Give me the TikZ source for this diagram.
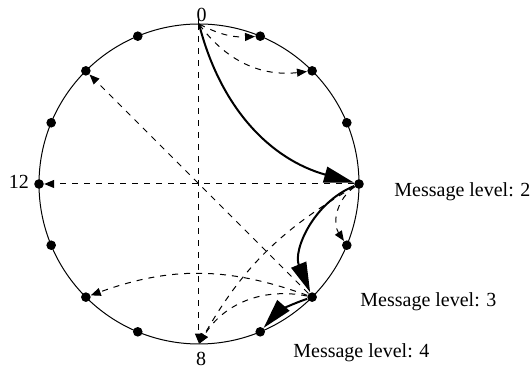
\documentclass[tikz,border=0pt]{standalone}
\usepackage{fontspec}
\setmainfont{Liberation Serif}
\usetikzlibrary{arrows.meta}

\begin{document}
\begin{tikzpicture}[x=0.5pt, y=0.5pt,
        dot/.style={circle, fill=black, inner sep=0pt, minimum size=4.8pt},
        point/.style={inner sep=0pt, minimum size=0pt},
        msg/.style={dashed, line width=0.5pt, -{Triangle[length=5pt, width=4pt]}},
        hop/.style={line width=1pt, -{Triangle[length=15pt, width=8pt]}}]
        \pgfmathsetmacro{\radius}{160}
        \useasboundingbox (-199, -183) rectangle (331, 184);

        \draw[line width=0.5pt] (0, 0) circle (\radius);

        \node[point] (n0) at (90:\radius) {};
        \node[dot] (n1) at (67.5:\radius) {};
        \node[dot] (n2) at (45:\radius) {};
        \node[dot] (n3) at (22.5:\radius) {};
        \node[dot] (n4) at (0:\radius) {};
        \node[dot] (n5) at (-22.5:\radius) {};
        \node[dot] (n6) at (-45:\radius) {};
        \node[dot] (n7) at (-67.5:\radius) {};
        \node[point] (n8) at (-90:\radius) {};
        \node[dot] (n9) at (-112.5:\radius) {};
        \node[dot] (n10) at (-135:\radius) {};
        \node[dot] (n11) at (-157.5:\radius) {};
        \node[dot] (n12) at (180:\radius) {};
        \node[dot] (n13) at (157.5:\radius) {};
        \node[dot] (n14) at (135:\radius) {};
        \node[dot] (n15) at (112.5:\radius) {};

        \draw[line width=0.5pt] ([yshift=-2.5pt]n0.center) -- ([yshift=2.5pt]n0.center);

        \node[inner sep=0pt] (t0) at (2.5, 169) {0};
        \node[inner sep=0pt] (t8) at (2, -175) {8};
        \node[inner sep=0pt] (t12) at (-180, 2) {12};

        \node[inner sep=0pt, anchor=base west] (lvl2) at (195, -13) {Message level: 2};
        \node[inner sep=0pt, anchor=base west] (lvl3) at (161, -123) {Message level: 3};
        \node[inner sep=0pt, anchor=base west] (lvl4) at (94, -174) {Message level: 4};

        \draw[msg] (n0) to[bend right=15] (n1);
        \draw[msg] (n0) to[bend right=30] (n2);
        \draw[msg] (n0) -- (n8);

        \draw[msg] (n4) to[bend right=45] (n5);
        \draw[msg] (n4) -- (n12);
        \draw[msg] (n4) to[bend right=15] (n8);

        \draw[msg] (n6) -- (n14);
        \draw[msg] (n6) to[bend right=20] (n10);
        \draw[msg] (n6) to[bend right=35] (n8);

        \draw[hop] (n0) to[bend right=30] (n4);
        \draw[hop] (n4) to[bend right=45] (n6);
        \draw[hop] (n6) to[bend right=15] (n7);
    \end{tikzpicture}
\end{document}
